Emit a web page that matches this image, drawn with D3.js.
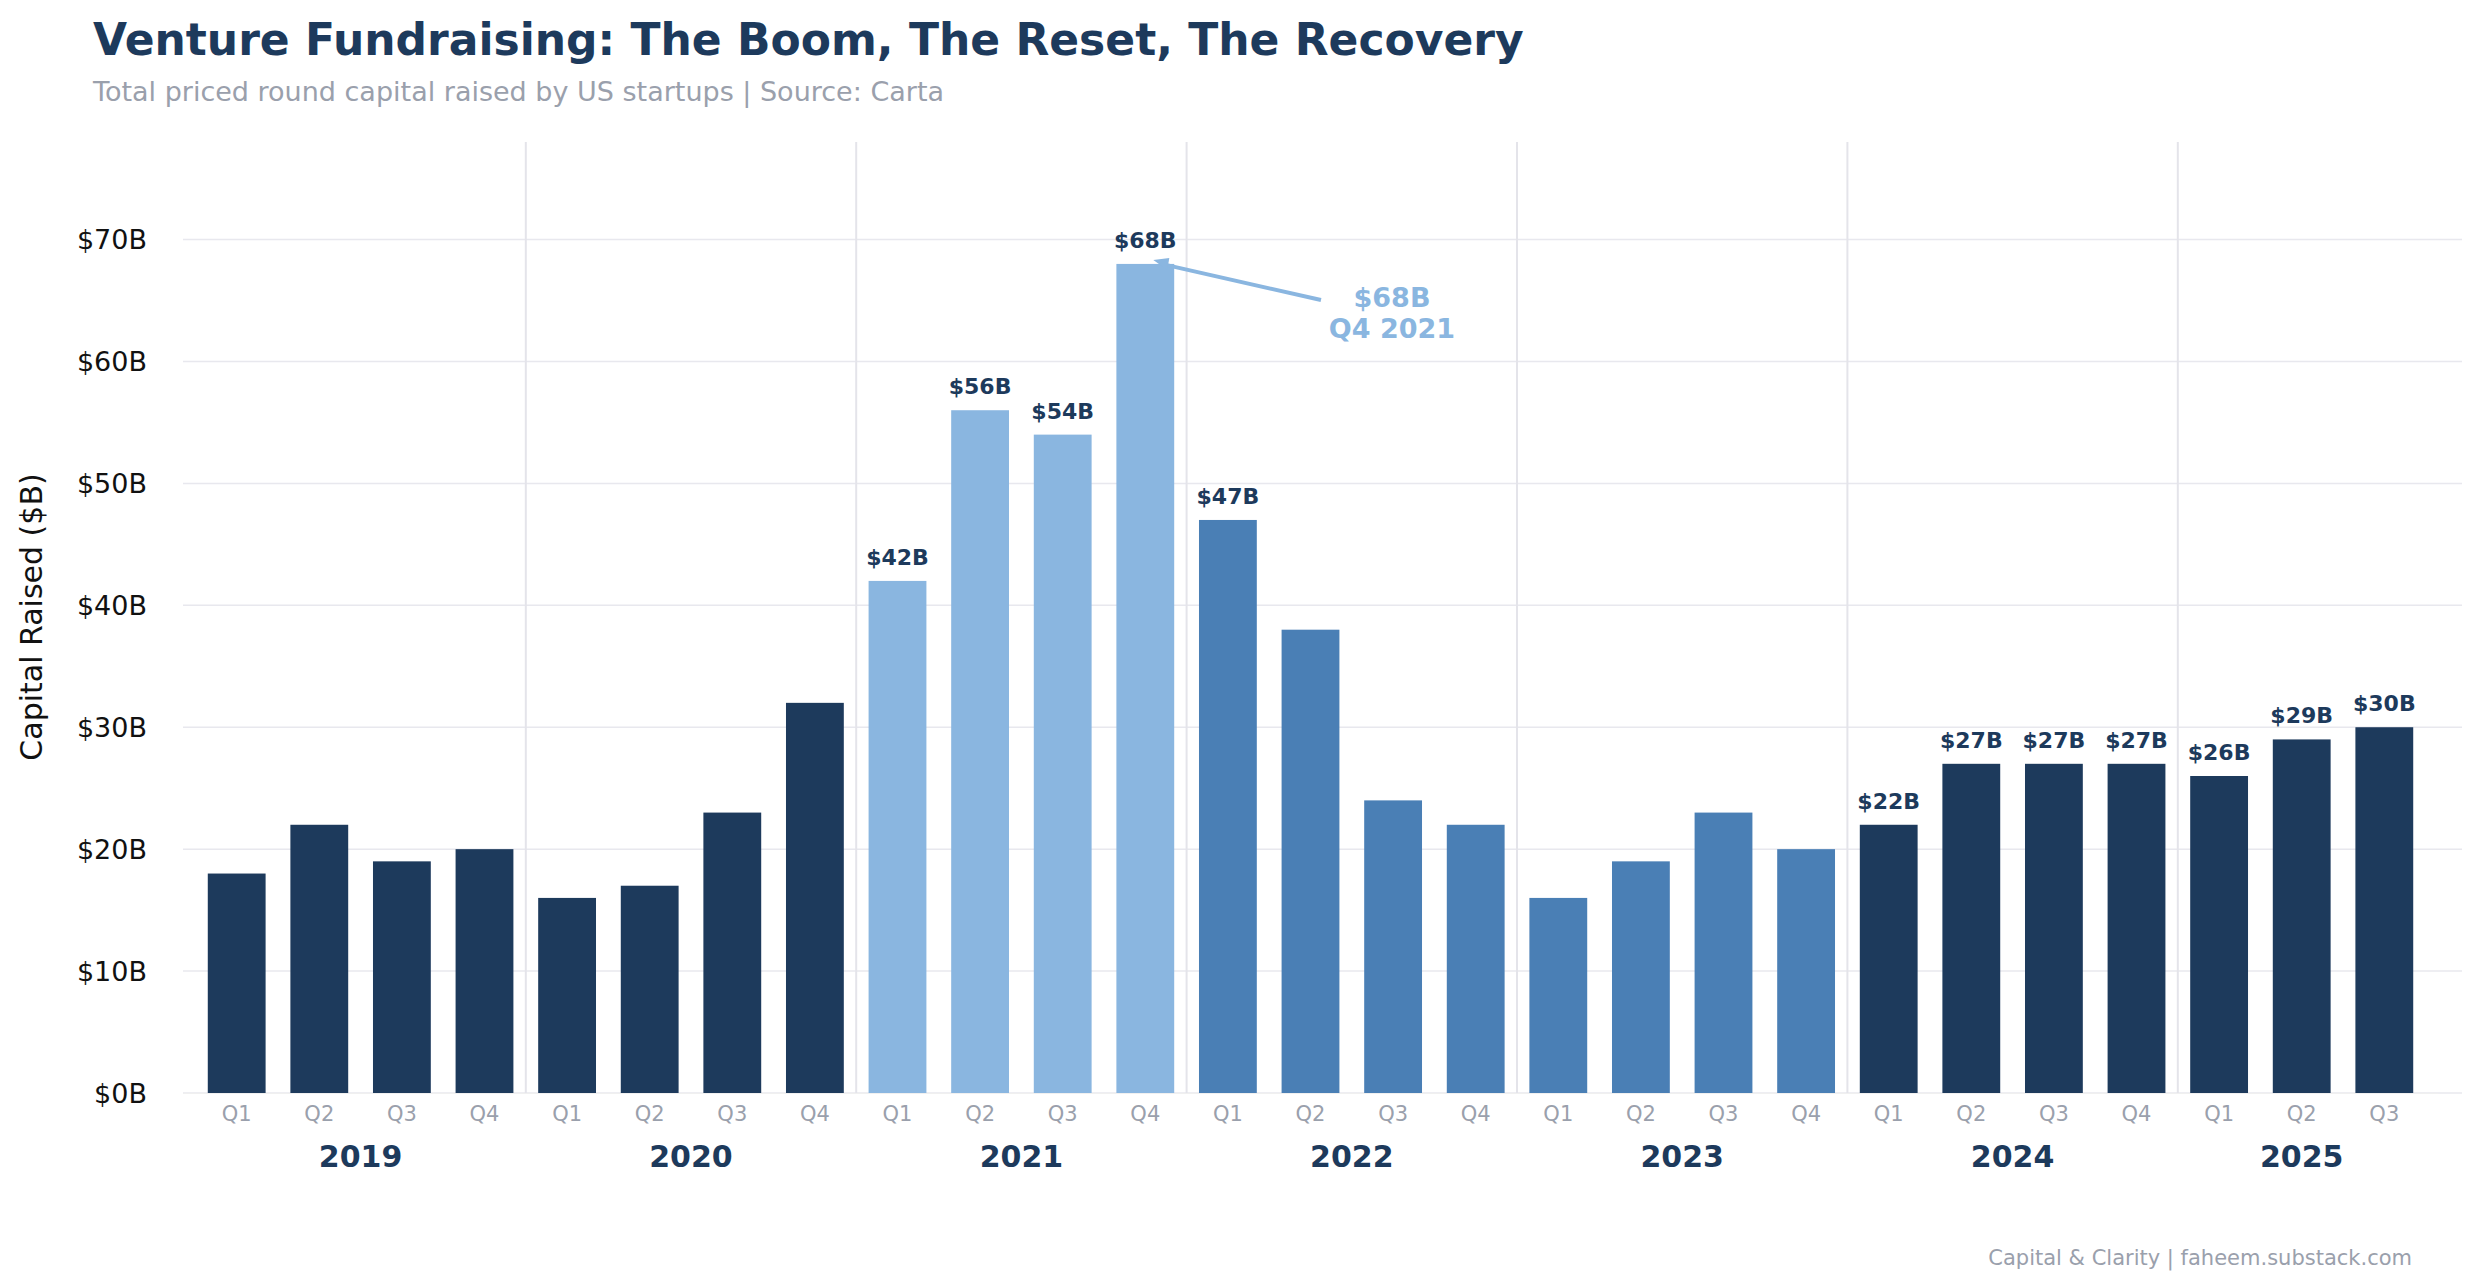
<!DOCTYPE html>
<html><head><meta charset="utf-8">
<script src="https://cdn.jsdelivr.net/npm/d3@7"></script>
<style>body{margin:0;background:#fff}text{font-family:"DejaVu Sans",sans-serif}</style>
</head><body><svg id="c" width="2474" height="1288"></svg>
<script>
// datos
var years = ["2019","2020","2021","2022","2023","2024","2025"];
var quarters = ["Q1","Q2","Q3","Q4"];
var values = [18,22,19,20, 16,17,23,32, 42,56,54,68, 47,38,24,22, 16,19,23,20, 22,27,27,27, 26,29,30];
var phases = ["d","d","d","d","d","d","d","d","l","l","l","l","m","m","m","m","m","m","m","m","d","d","d","d","d","d","d"];
var showLabel = [0,0,0,0,0,0,0,0,1,1,1,1,1,0,0,0,0,0,0,0,1,1,1,1,1,1,1];
var yTicks = [0,10,20,30,40,50,60,70];
var colors = {d:"#1d3a5c", l:"#8ab6e0", m:"#4a7fb5"};

var bars = values.map(function(v,i){
  return {key:i, year:years[Math.floor(i/4)], q:quarters[i%4], v:v, ph:phases[i], lab:showLabel[i]};
});

var svg = d3.select("#c");
var x = d3.scaleBand().domain(bars.map(function(d){return d.key;})).range([183,2438]).padding(0.3);
var y = d3.scaleLinear().domain([0,78]).range([1093,142]);

// grid
svg.append("g").selectAll("line").data(yTicks).enter().append("line")
  .attr("x1",183).attr("x2",2462).attr("y1",function(d){return y(d);}).attr("y2",function(d){return y(d);})
  .attr("stroke","#e8e8ee").attr("stroke-width",1.5);
// separadores de año
svg.append("g").selectAll("line").data(years.slice(1)).enter().append("line")
  .attr("x1",function(d,i){return x((i+1)*4) - x.step()*x.paddingInner()/2;})
  .attr("x2",function(d,i){return x((i+1)*4) - x.step()*x.paddingInner()/2;})
  .attr("y1",142).attr("y2",1093).attr("stroke","#e4e4ea").attr("stroke-width",2);

// eje y
var yAxis = svg.append("g").attr("transform","translate(150,0)")
  .call(d3.axisLeft(y).tickValues(yTicks).tickSize(0).tickFormat(function(d){return "$"+d+"B";}));
yAxis.select(".domain").remove();
yAxis.selectAll("text").attr("font-size",27).attr("fill","#111").attr("dy","0.35em");

svg.append("text").attr("transform","translate(42,617) rotate(-90)").attr("text-anchor","middle")
  .attr("font-size",30).attr("fill","#111").text("Capital Raised ($B)");

// barras
svg.append("g").selectAll("rect").data(bars).enter().append("rect")
  .attr("x",function(d){return x(d.key);}).attr("width",x.bandwidth())
  .attr("y",function(d){return y(d.v);}).attr("height",function(d){return y(0)-y(d.v);})
  .attr("fill",function(d){return colors[d.ph];});

svg.append("g").selectAll("text").data(bars.filter(function(d){return d.lab;})).enter().append("text")
  .attr("x",function(d){return x(d.key)+x.bandwidth()/2;}).attr("y",function(d){return y(d.v)-16;})
  .attr("text-anchor","middle").attr("font-size",22).attr("font-weight","bold").attr("fill","#1d3a5c")
  .text(function(d){return "$"+d.v+"B";});

// eje x: trimestres
var xAxis = svg.append("g").attr("transform","translate(0,1093)")
  .call(d3.axisBottom(x).tickSize(0).tickFormat(function(k){return bars[k].q;}));
xAxis.select(".domain").attr("stroke","#f0f0f0");
xAxis.selectAll("text").attr("font-size",21).attr("fill","#9aa0ac").attr("dy","1.2em");

// años
svg.append("g").selectAll("text").data(years).enter().append("text")
  .attr("x",function(d,i){
    var ks = bars.filter(function(b){return b.year===d;});
    return (x(ks[0].key)+x(ks[ks.length-1].key)+x.bandwidth())/2;})
  .attr("y",1167).attr("text-anchor","middle").attr("font-size",30).attr("font-weight","bold")
  .attr("fill","#1d3a5c").text(function(d){return d;});

// anotación del pico
var peak = bars[11];
var px = x(peak.key)+x.bandwidth()/2+16, py = y(peak.v);
svg.append("line").attr("x1",px).attr("y1",py).attr("x2",1321).attr("y2",300)
  .attr("stroke","#8ab6e0").attr("stroke-width",4);
svg.append("path").attr("d","M"+(px-8)+","+(py-4)+" L"+(px+8)+","+(py-6)+" L"+(px+6)+","+(py+6)+"Z").attr("fill","#8ab6e0");
svg.append("text").attr("x",1392).attr("y",307).attr("text-anchor","middle").attr("font-size",27)
  .attr("font-weight","bold").attr("fill","#8ab6e0").text("$68B");
svg.append("text").attr("x",1392).attr("y",338).attr("text-anchor","middle").attr("font-size",27)
  .attr("font-weight","bold").attr("fill","#8ab6e0").text("Q4 2021");

// títulos
svg.append("text").attr("x",93).attr("y",55).attr("font-size",44).attr("font-weight","bold")
  .attr("fill","#1d3a5c").text("Venture Fundraising: The Boom, The Reset, The Recovery");
svg.append("text").attr("x",93).attr("y",101).attr("font-size",27).attr("fill","#9aa0ac")
  .text("Total priced round capital raised by US startups  |  Source: Carta");
svg.append("text").attr("x",2412).attr("y",1265).attr("text-anchor","end").attr("font-size",21)
  .attr("fill","#9aa0ac").text("Capital & Clarity  |  faheem.substack.com");
</script></body></html>
